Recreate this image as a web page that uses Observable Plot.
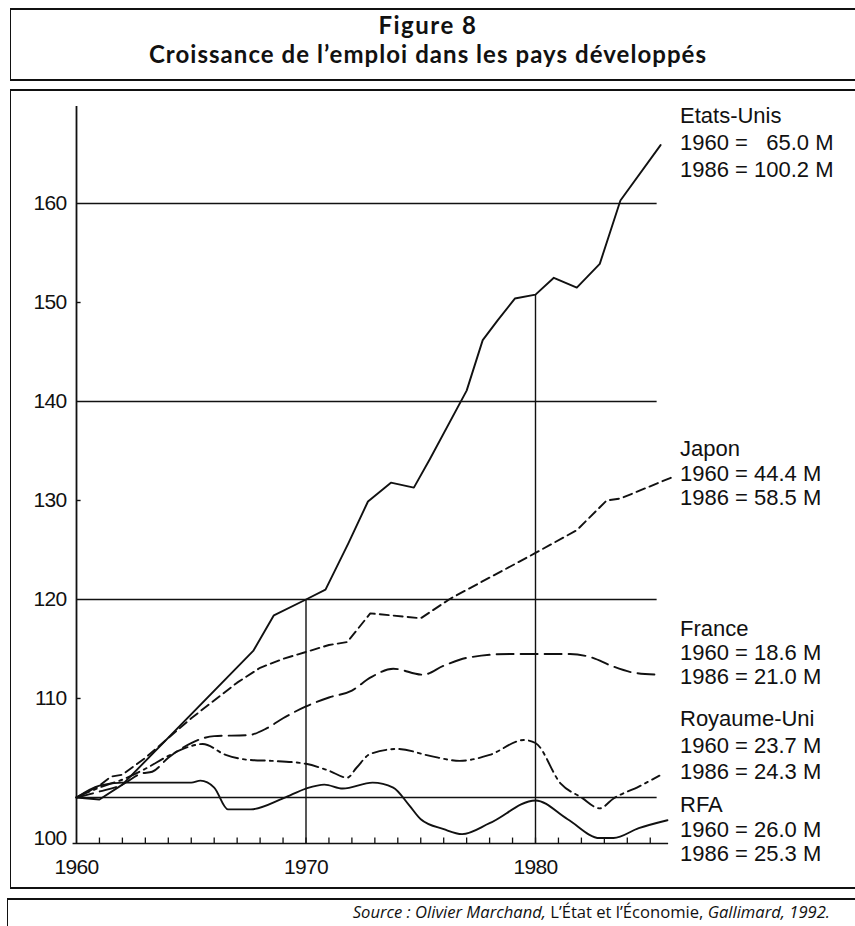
<!DOCTYPE html>
<html>
<head>
<meta charset="utf-8">
<script src="https://cdn.jsdelivr.net/npm/d3@7"></script>
<script src="https://cdn.jsdelivr.net/npm/@observablehq/plot@0.6"></script>
<style>
  html, body { margin: 0; padding: 0; background: #fff; }
  body { width: 855px; height: 926px; position: relative; overflow: hidden; color: #111;
         font-family: "Liberation Sans", Arial, sans-serif; }
  .box { position: absolute; box-sizing: border-box; border-style: solid; border-color: #111; }
  #titlebox { left: 10px; top: 8px; width: 850px; height: 73px; border-width: 2px 0 2px 1.5px; }
  #chartbox { left: 10px; top: 89px; width: 850px; height: 800px; border-width: 2px 0 2px 1.5px; }
  #capbox { left: 7px; top: 898px; width: 850px; height: 40px; border-width: 2px 0 0 1.5px; }
  .title { position: absolute; left: 3px; width: 850px; text-align: center; white-space: nowrap;
           font-family: Lato, "Open Sans", sans-serif; font-weight: 700; font-size: 24px;
           line-height: 28.8px; height: 28.8px; }
  #title1 { top: 11.3px; letter-spacing: 1.5px; }
  #title2 { top: 40.3px; letter-spacing: 1.05px; }
  #chart { position: absolute; left: 0; top: 90px; }
  .lab { position: absolute; left: 680px; font-size: 22px; white-space: pre; }
  #caption { position: absolute; right: 25px; top: 901px; font-family: "Open Sans", sans-serif;
             font-size: 16.6px; line-height: 21px; white-space: pre; }
  #caption i { font-style: italic; }
</style>
</head>
<body>
<div class="box" id="titlebox"></div>
<div class="box" id="chartbox"></div>
<div class="box" id="capbox"></div>
<div class="title" id="title1">Figure 8</div>
<div class="title" id="title2">Croissance de l’emploi dans les pays développés</div>
<div id="chart"></div>
<div id="labels"></div>
<div id="caption"><i>Source : Olivier Marchand,</i> L’État et l’Économie, <i>Gallimard, 1992.</i></div>
<script>
// ---------- data (index 1960 = 100) ----------
const etatsUnis = [
  [1960,100],[1961,99.8],[1962,101.3],[1967.7,114.8],[1968.6,118.4],[1970,120],
  [1970.85,121],[1971.85,125.7],[1972.7,129.9],[1973.7,131.8],[1974.7,131.3],
  [1975.4,134.2],[1977,141.1],[1977.7,146.2],[1978.35,148.2],[1979.1,150.4],
  [1980,150.8],[1980.8,152.5],[1981.8,151.5],[1982.8,153.9],[1983.7,160.3],[1985.45,165.9]
];
const japon = [
  [1960,100],[1961,101.2],[1961.5,102.1],[1962,102.3],[1963,104.0],[1965,108.0],
  [1967,111.6],[1968,113.1],[1969,114.0],[1970,114.7],[1971,115.4],[1971.8,115.7],
  [1972.8,118.6],[1975,118.1],[1976.3,120.1],[1980,124.7],[1981.8,127.0],
  [1983.1,130.0],[1983.7,130.2],[1985.9,132.3]
];
const france = [
  [1960,100],[1961,100.6],[1962,101.3],[1962.8,102.4],[1963.3,102.6],[1964,104.0],
  [1965,105.5],[1966,106.2],[1967.5,106.3],[1968.3,107],[1969,108],[1970,109.2],
  [1971,110.1],[1972,110.8],[1972.8,112.1],[1973.8,113],[1975.1,112.4],[1976,113.3],
  [1977,114.1],[1978.9,114.5],[1981.5,114.5],[1982.5,114.1],[1983.3,113.3],
  [1984.3,112.6],[1985.4,112.4]
];
const royaumeUni = [
  [1960,100],[1961,101],[1962,101.8],[1963,102.9],[1964,104.2],[1965,105.2],
  [1965.5,105.4],[1966.5,104.3],[1967.5,103.8],[1968.5,103.7],[1970,103.4],
  [1971,102.7],[1971.8,102.0],[1972.2,103],[1972.8,104.4],[1974,104.9],
  [1975.4,104.2],[1976.7,103.7],[1978,104.3],[1979.5,105.8],[1980,105.5],
  [1981.1,101.4],[1982,100.0],[1982.8,98.9],[1983.4,99.9],[1984.5,101.1],[1985.4,102.2]
];
const rfa = [
  [1960,100],[1961,101.2],[1962,101.5],[1965,101.5],[1965.4,101.7],[1966,101],
  [1966.6,98.8],[1967.6,98.8],[1969,99.9],[1970,100.9],[1970.8,101.3],[1971.6,100.9],
  [1972.9,101.5],[1973.8,101],[1974.5,99.2],[1975,97.8],[1976,96.8],[1976.8,96.3],
  [1978,97.4],[1980,99.7],[1981.4,97.8],[1982.8,95.9],[1983.4,95.9],[1984.5,96.9],[1985.75,97.7]
];

const seriesNames = ["Etats-Unis", "Japon", "France", "Royaume-Uni", "RFA"];
const emploi1960 = [65.0, 44.4, 18.6, 23.7, 26.0];   // millions
const emploi1986 = [100.2, 58.5, 21.0, 24.3, 25.3];  // millions

const xLabelYears = [1960, 1970, 1980];
const yLabelValues = [110, 120, 130, 140, 150, 160];
const gridValues = [100, 120, 140, 160];
const minorYTicks = [110, 130, 150];
const dropYears = [1970, 1980];
const tickYears = d3.range(1961, 1986);

// ---------- layout ----------
const yMin = 95.35, yMax = 169.8;
const gridEnd = 1985.3;
const ink = "#111";

const usAt = yr => etatsUnis.find(d => d[0] === yr)[1];

const lineStyles = [
  {data: etatsUnis, dash: null, curve: "linear"},
  {data: japon, dash: "9,5", curve: "linear"},
  {data: france, dash: "17,7", curve: "monotone-x"},
  {data: royaumeUni, dash: "14,5,3,5", curve: "monotone-x"},
  {data: rfa, dash: null, curve: "monotone-x"}
];

const chart = Plot.plot({
  width: 855,
  height: 799,
  marginLeft: 76,
  marginRight: 182.3,
  marginTop: 16,
  marginBottom: 46,
  x: {domain: [1960, 1986], axis: null},
  y: {domain: [yMin, yMax], axis: null},
  style: {background: "transparent", fontFamily: "Liberation Sans, Arial, sans-serif", overflow: "visible", color: ink},
  marks: [
    Plot.ruleY(gridValues, {x1: 1960, x2: gridEnd, stroke: ink, strokeWidth: 1.4}),
    Plot.ruleY(minorYTicks, {x1: 1960, x2: 1960.2, stroke: ink, strokeWidth: 1.4}),
    Plot.ruleX([1960], {y1: yMin, y2: yMax, stroke: ink, strokeWidth: 1.8}),
    Plot.ruleY([yMin], {x1: 1959.85, x2: 1985.8, stroke: ink, strokeWidth: 1.6}),
    Plot.ruleX(tickYears, {y1: yMin, y2: yMin + 0.55, stroke: ink, strokeWidth: 1.3}),
    Plot.ruleX(dropYears, {y1: yMin, y2: d => usAt(d), stroke: ink, strokeWidth: 1.4}),
    ...lineStyles.map(s => Plot.line(s.data, {
      x: d => d[0], y: d => d[1], stroke: ink, strokeWidth: 1.9,
      strokeDasharray: s.dash, curve: s.curve
    })),
    Plot.text(xLabelYears, {x: d => d, y: yMin, dy: 24, text: d => String(d), fontSize: 21, fill: ink}),
    Plot.text(yLabelValues, {x: 1960, y: d => d, dx: -10, textAnchor: "end", text: d => String(d), fontSize: 21, fill: ink}),
    Plot.text(["100"], {x: 1960, y: yMin, dx: -10, dy: -5, textAnchor: "end", text: d => d, fontSize: 21, fill: ink})
  ]
});
chart.querySelectorAll("text").forEach(t => t.style.letterSpacing = "-0.7px");
document.getElementById("chart").appendChild(chart);

// ---------- series labels ----------
const labelLayout = [
  {top: 102, lh: 27},
  {top: 437, lh: 24.5},
  {top: 617, lh: 24},
  {top: 706, lh: 26.5},
  {top: 793, lh: 24.5}
];
const fmt = v => v.toFixed(1);
const labels = document.getElementById("labels");
seriesNames.forEach((name, i) => {
  const a = fmt(emploi1960[i]), b = fmt(emploi1986[i]);
  const n = Math.max(a.length, b.length);
  const pad = s => " ".repeat(2 * (n - s.length)) + s;
  const div = document.createElement("div");
  div.className = "lab";
  div.style.top = labelLayout[i].top + "px";
  div.style.lineHeight = labelLayout[i].lh + "px";
  div.textContent = `${name}\n1960 = ${pad(a)} M\n1986 = ${pad(b)} M`;
  labels.appendChild(div);
});
</script>
</body>
</html>
